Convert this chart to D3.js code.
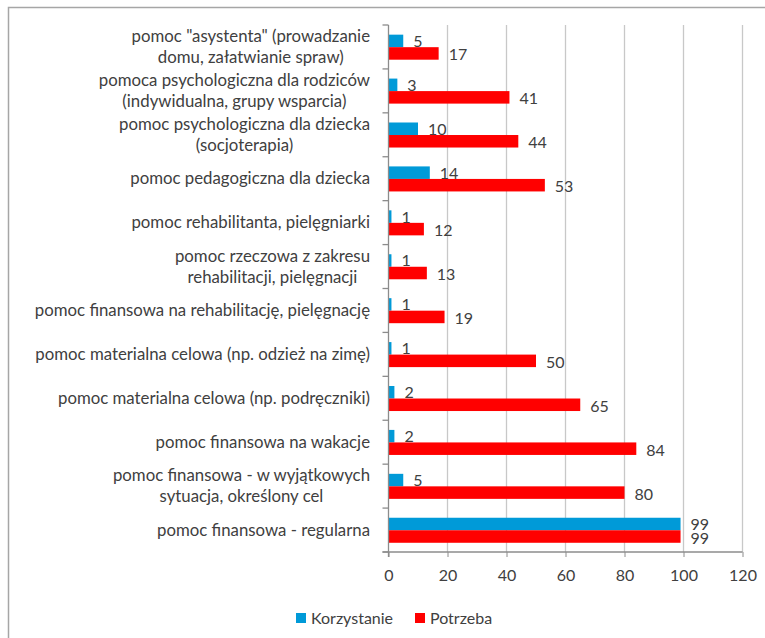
<!DOCTYPE html>
<html>
<head>
<meta charset="utf-8">
<script src="https://cdn.jsdelivr.net/npm/d3@7"></script>
<style>
  body { margin: 0; background: #fff; }
  text { font-family: Lato, "Open Sans", sans-serif; fill: #404040; }
</style>
</head>
<body>
<svg width="765" height="638"></svg>
<script>
// categories, top to bottom (each entry = lines of the label)
var categories = [
  ['pomoc "asystenta" (prowadzanie', 'domu, załatwianie spraw)'],
  ['pomoca psychologiczna dla rodziców', '(indywidualna, grupy wsparcia)'],
  ['pomoc psychologiczna dla dziecka', '(socjoterapia)'],
  ['pomoc pedagogiczna dla dziecka'],
  ['pomoc rehabilitanta, pielęgniarki'],
  ['pomoc rzeczowa z zakresu', 'rehabilitacji, pielęgnacji'],
  ['pomoc finansowa na rehabilitację, pielęgnację'],
  ['pomoc materialna celowa (np. odzież na zimę)'],
  ['pomoc materialna celowa (np. podręczniki)'],
  ['pomoc finansowa na wakacje'],
  ['pomoc finansowa - w wyjątkowych', 'sytuacja, określony cel'],
  ['pomoc finansowa - regularna']
];
var korzystanie = [5, 3, 10, 14, 1, 1, 1, 1, 2, 2, 5, 99];
var potrzeba = [17, 41, 44, 53, 12, 13, 19, 50, 65, 84, 80, 99];
var seriesNames = ['Korzystanie', 'Potrzeba'];
var seriesColors = ['#009ad8', '#ff0000'];
var xTicks = [0, 20, 40, 60, 80, 100, 120];

var svg = d3.select('svg');

// outer frame (right and bottom edges fall outside the picture)
svg.append('rect').attr('x', 8.5).attr('y', 7.5).attr('width', 800).attr('height', 700)
  .attr('fill', 'none').attr('stroke', '#a6a6a6').attr('stroke-width', 1.5);

var plotL = 388.5, plotR = 742.5, plotT = 25, plotB = 552;

var x = d3.scaleLinear().domain([0, 120]).range([plotL, plotR]);
var y = d3.scaleBand().domain(d3.range(categories.length)).range([plotT, plotB]);
var sub = d3.scaleBand().domain([0, 1]).range([y.bandwidth() * 0.22, y.bandwidth() * 0.79]);

// vertical gridlines
svg.selectAll('.grid').data(xTicks.slice(1)).enter().append('line')
  .attr('x1', d => x(d)).attr('x2', d => x(d))
  .attr('y1', plotT).attr('y2', plotB)
  .attr('stroke', '#c8c8c8').attr('stroke-width', 1.3);

// bars
var rows = categories.map((c, i) => ({ i: i, vals: [korzystanie[i], potrzeba[i]] }));
var g = svg.selectAll('.row').data(rows).enter().append('g')
  .attr('transform', d => 'translate(0,' + y(d.i) + ')');

g.selectAll('rect').data(d => d.vals).enter().append('rect')
  .attr('x', x(0))
  .attr('y', (d, j) => sub(j))
  .attr('width', d => x(d) - x(0))
  .attr('height', sub.bandwidth())
  .attr('fill', (d, j) => seriesColors[j]);

g.selectAll('.val').data(d => d.vals).enter().append('text')
  .attr('x', d => x(d) + 10)
  .attr('y', (d, j) => sub(j) + sub.bandwidth() / 2 + (j === 0 ? 6 : 7))
  .attr('font-size', 16)
  .text(d => d);

// x axis
var xAxis = svg.append('g').attr('transform', 'translate(0,' + plotB + ')')
  .call(d3.axisBottom(x).tickValues(xTicks).tickSize(5).tickPadding(13));
xAxis.select('.domain').remove();
xAxis.append('line').attr('x1', plotL - 6).attr('x2', plotR).attr('stroke', '#8c8c8c').attr('stroke-width', 1.3);
xAxis.selectAll('.tick line').attr('stroke', '#8c8c8c');
xAxis.selectAll('.tick text').attr('font-size', 16).attr('fill', '#404040')
  .attr('font-family', 'Lato, sans-serif');

// category axis line + boundary ticks
svg.append('line').attr('x1', plotL).attr('x2', plotL).attr('y1', plotT).attr('y2', plotB + 5)
  .attr('stroke', '#8c8c8c').attr('stroke-width', 1.3);
svg.selectAll('.ctick').data(d3.range(categories.length + 1)).enter().append('line')
  .attr('x1', plotL - 6).attr('x2', plotL)
  .attr('y1', d => plotT + d * y.step()).attr('y2', d => plotT + d * y.step())
  .attr('stroke', '#8c8c8c').attr('stroke-width', 1.3);

// category labels: block right-aligned, lines centered within block
var labelRight = 370, lineH = 21;
categories.forEach(function(lines, i) {
  var cy = y(i) + y.bandwidth() / 2;
  var t = svg.append('text').attr('font-size', 16.8).attr('text-anchor', 'middle');
  var spans = lines.map((s, k) => t.append('tspan').text(s)
    .attr('y', cy + (k - (lines.length - 1) / 2) * lineH + 5.5));
  var w = d3.max(spans, s => s.node().getComputedTextLength());
  spans.forEach(s => s.attr('x', labelRight - w / 2));
});

// legend
var legX = [296, 415];
seriesNames.forEach(function(n, j) {
  svg.append('rect').attr('x', legX[j]).attr('y', 613).attr('width', 10).attr('height', 10)
    .attr('fill', seriesColors[j]);
  svg.append('text').attr('x', legX[j] + 15).attr('y', 623.5).attr('font-size', 16).text(n);
});
</script>
</body>
</html>
